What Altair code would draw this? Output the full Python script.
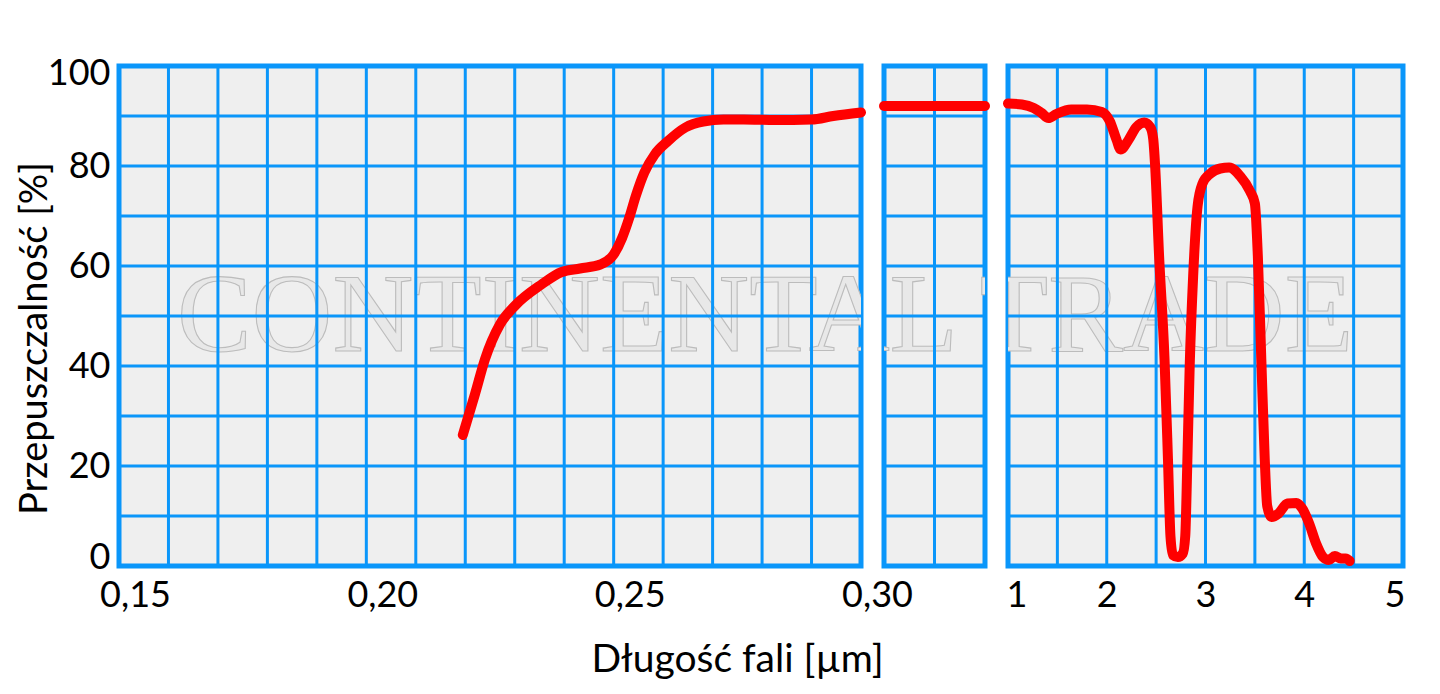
import altair as alt
import pandas as pd

# ---- data ----
uv_x = [0.2195, 0.2220, 0.2240, 0.2270, 0.2300, 0.2354, 0.2395, 0.2432, 0.2473, 0.2500,
        0.2517, 0.2531, 0.2545, 0.2562, 0.2583, 0.2611, 0.2645, 0.2681, 0.2722, 0.2763,
        0.2826, 0.2900, 0.2944, 0.3000]
uv_y = [26.2, 34.5, 41.4, 48.3, 52.0, 56.3, 58.8, 59.5, 60.3, 62.3,
        65.6, 69.5, 74.1, 78.7, 82.3, 85.1, 87.7, 88.9, 89.3, 89.3,
        89.2, 89.3, 90.0, 90.7]

mid_x = [0.30, 1.00]
mid_y = [92.0, 92.0]

ir_x = [1.00, 1.14, 1.26, 1.34, 1.41, 1.49, 1.64, 1.80, 1.95, 2.03,
        2.10, 2.14, 2.22, 2.30, 2.38, 2.44, 2.47, 2.49, 2.53, 2.585,
        2.62, 2.645, 2.67, 2.72, 2.77, 2.795, 2.815, 2.84, 2.875, 2.92,
        2.97, 3.05, 3.15, 3.24, 3.35, 3.45, 3.50, 3.53, 3.565, 3.60,
        3.625, 3.67, 3.74, 3.83, 3.92, 3.98, 4.05, 4.12, 4.19, 4.25,
        4.31, 4.37, 4.42, 4.46]
ir_y = [92.5, 92.3, 91.6, 90.6, 89.6, 90.4, 91.3, 91.3, 90.8, 89.0,
        85.2, 83.3, 85.2, 87.8, 88.7, 87.8, 85.5, 80.0, 62.0, 41.4,
        21.3, 6.0, 2.2, 1.8, 2.5, 6.0, 20.0, 40.0, 58.0, 72.0,
        76.5, 78.5, 79.5, 79.7, 78.0, 75.0, 72.5, 62.0, 41.4, 21.3,
        12.0, 9.8, 10.5, 12.5, 12.6, 11.5, 8.5, 4.5, 1.8, 1.2,
        2.0, 1.5, 1.5, 1.0]

left_ticks = [0.15, 0.20, 0.25, 0.30]
left_grid = [0.16, 0.17, 0.18, 0.19, 0.20, 0.21, 0.22, 0.23, 0.24, 0.25,
             0.26, 0.27, 0.28, 0.29]
mid_grid = [0.65]
right_ticks = [1, 2, 3, 4, 5]
right_grid = [1.5, 2.0, 2.5, 3.0, 3.5, 4.0, 4.5]
y_ticks = [0, 20, 40, 60, 80, 100]
y_grid = [10, 20, 30, 40, 50, 60, 70, 80, 90]

x_title = "Długość fali [µm]"
y_title = "Przepuszczalność [%]"
watermark = ["CONTINENTAL TRADE"]

# ---- styling ----
BLUE = "#0a96fa"
RED = "#ff0000"
FONT = "Lato"
H = 500
W_LEFT, W_MID, W_RIGHT = 742, 101, 395
SPACING = 23
WM_CENTER = 646  # watermark centre, relative to left plot edge

y_scale = alt.Scale(domain=[0, 100], nice=False, zero=False)


def panel(xs, ys, domain, vgrid, width, offset, x_axis, y_axis):
    xsc = alt.Scale(domain=domain, nice=False, zero=False)
    line_df = pd.DataFrame({"x": xs, "y": ys, "i": list(range(len(xs)))})
    wm = alt.Chart(pd.DataFrame({"t": watermark})).mark_text(
        font="Liberation Serif", fontSize=112, fill="#e8e8e8", stroke="#bcbcbc",
        strokeWidth=1.1, align="center", baseline="alphabetic", clip=True
    ).encode(text="t:N", x=alt.value(WM_CENTER - offset), y=alt.value(285))
    hg = alt.Chart(pd.DataFrame({"g": y_grid})).mark_rule(
        color=BLUE, strokeWidth=3
    ).encode(y=alt.Y("g:Q", scale=y_scale, axis=y_axis))
    vg = alt.Chart(pd.DataFrame({"g": vgrid})).mark_rule(
        color=BLUE, strokeWidth=3
    ).encode(x=alt.X("g:Q", scale=xsc, axis=x_axis))
    ln = alt.Chart(line_df).mark_line(
        color=RED, strokeWidth=10, strokeCap="round", strokeJoin="round",
        interpolate="monotone"
    ).encode(
        x=alt.X("x:Q", scale=xsc, axis=x_axis),
        y=alt.Y("y:Q", scale=y_scale, axis=y_axis),
        order="i:Q",
    )
    return alt.layer(wm, hg, vg, ln).properties(width=width, height=H)


left_x_axis = alt.Axis(
    values=left_ticks,
    labelExpr="replace(format(datum.value, '.2f'), '.', ',')",
    grid=False, ticks=False, domain=False,
    labelFont=FONT, labelFontSize=36, labelColor="black",
    labelPadding=12, labelOffset=16, labelFlush=False,
    title=x_title, titleFont=FONT, titleFontSize=39, titleFontWeight="normal",
    titleColor="black", titleX=618, titleY=105, titleAlign="center",
    titleBaseline="alphabetic",
)
left_y_axis = alt.Axis(
    values=y_ticks, grid=False, ticks=False, domain=False,
    labelFont=FONT, labelFontSize=36, labelColor="black", labelPadding=9,
    labelFlush=True, labelFlushOffset=10,
    title=y_title, titleFont=FONT, titleFontSize=38, titleFontWeight="normal",
    titleColor="black", titlePadding=-7, titleY=272,
)
right_x_axis = alt.Axis(
    values=right_ticks, format="d",
    grid=False, ticks=False, domain=False,
    labelFont=FONT, labelFontSize=36, labelColor="black",
    labelPadding=12, labelFlush=True, labelFlushOffset=2, title=None,
)

left = panel(uv_x, uv_y, [0.15, 0.30], left_grid, W_LEFT, 0, left_x_axis, left_y_axis)
mid = panel(mid_x, mid_y, [0.30, 1.00], mid_grid, W_MID, W_LEFT + SPACING, None, None)
right = panel(ir_x, ir_y, [1, 5], right_grid, W_RIGHT,
              W_LEFT + W_MID + 2 * SPACING, right_x_axis, None)

chart = alt.hconcat(left, mid, right, spacing=SPACING, bounds="flush").properties(
    padding={"left": 5, "top": 44, "right": 5, "bottom": 5}
).configure(
    background="white"
).configure_view(
    fill="#efefef", stroke=BLUE, strokeWidth=5
)

chart.save("out.html", embed_options={"renderer": "svg", "actions": False})
